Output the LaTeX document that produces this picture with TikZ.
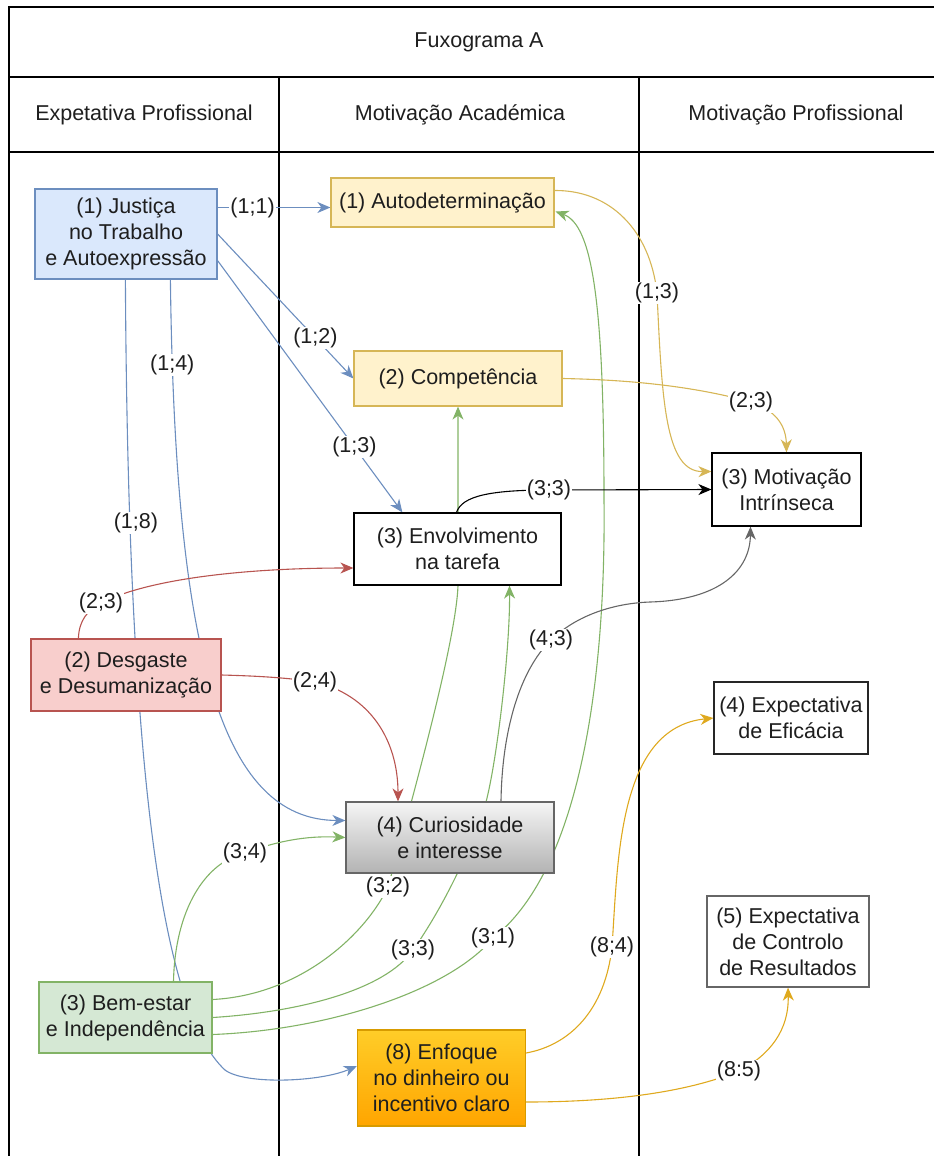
\documentclass[tikz,border=0pt]{standalone}
\usepackage{fontspec}
\setmainfont{Liberation Sans}
\usetikzlibrary{arrows.meta,calc,backgrounds}
\definecolor{bluefill}{HTML}{DAE8FC}
\definecolor{bluestroke}{HTML}{6C8EBF}
\definecolor{yelfill}{HTML}{FFF2CC}
\definecolor{yelstroke}{HTML}{D6B656}
\definecolor{redfill}{HTML}{F8CECC}
\definecolor{redstroke}{HTML}{B85450}
\definecolor{grnfill}{HTML}{D5E8D4}
\definecolor{grnstroke}{HTML}{82B366}
\definecolor{graytop}{HTML}{F5F5F5}
\definecolor{graybot}{HTML}{B3B3B3}
\definecolor{graystroke}{HTML}{666666}
\definecolor{orgtop}{HTML}{FFCD28}
\definecolor{orgbot}{HTML}{FFA500}
\definecolor{orgstroke}{HTML}{D79B00}
\definecolor{goldline}{HTML}{DFA91E}
\definecolor{txt}{HTML}{1E1E1E}
\tikzset{
  every node/.style={font=\fontsize{21.5}{26}\selectfont, text=txt},
  box/.style={draw, line width=1.2pt, inner sep=0pt, align=center},
  edge/.style={line width=1.1pt, -{Stealth[length=13pt,width=11pt,inset=4pt]}},
  lbl/.style={fill=white, inner sep=1pt},
  frame/.style={line width=1.4pt, black},
  hdr/.style={inner sep=0pt}
}
\begin{document}
\begin{tikzpicture}[x=1pt,y=1pt]
\useasboundingbox (0,0) rectangle (934,-1156);
% header texts
\node[hdr] (T) at (479,-42) {Fuxograma A};
\node[hdr] (H1) at (144,-115) {Expetativa Profissional};
\node[hdr] (H2) at (460,-115) {Motivação Académica};
\node[hdr] (H3) at (796,-115) {Motivação Profissional};
% nodes
\node[box, fill=bluefill, draw=bluestroke, minimum width=182pt, minimum height=90pt] (J) at (126,-234) {(1) Justiça\\no Trabalho\\e Autoexpressão};
\node[box, fill=yelfill, draw=yelstroke, minimum width=223pt, minimum height=49pt] (A) at (442.5,-202.5) {(1) Autodeterminação};
\node[box, fill=yelfill, draw=yelstroke, minimum width=208pt, minimum height=55pt] (C) at (458,-378.5) {(2) Competência};
\node[box, fill=white, draw=black, minimum width=207pt, minimum height=72pt] (E) at (457.5,-549) {(3) Envolvimento\\na tarefa};
\node[box, fill=white, draw=black, minimum width=149pt, minimum height=73pt] (MI) at (786.5,-489.5) {(3) Motivação\\Intrínseca};
\node[box, fill=redfill, draw=redstroke, minimum width=190pt, minimum height=72pt] (D) at (126,-675) {(2) Desgaste\\e Desumanização};
\node[box, top color=graytop, bottom color=graybot, draw=graystroke, minimum width=208pt, minimum height=71pt] (CI) at (450,-837.5) {(4) Curiosidade\\e interesse};
\node[box, fill=white, draw=black!85, minimum width=154pt, minimum height=72pt] (EE) at (791,-718) {(4) Expectativa\\de Eficácia};
\node[box, fill=white, draw=graystroke, minimum width=162pt, minimum height=91pt] (R) at (788,-941.5) {(5) Expectativa\\de Controlo\\de Resultados};
\node[box, fill=grnfill, draw=grnstroke, minimum width=173pt, minimum height=71pt] (B) at (125.5,-1017.5) {(3) Bem-estar\\e Independência};
\node[box, top color=orgtop, bottom color=orgbot, draw=orgstroke, minimum width=168pt, minimum height=96pt] (F) at (441.5,-1078) {(8) Enfoque\\no dinheiro ou\\incentivo claro};
\begin{pgfonlayer}{background}
% frame
\draw[frame] (9,-1156) -- (9,-7) -- (934,-7);
\draw[frame] (9,-77) -- (934,-77);
\draw[frame] (9,-152) -- (934,-152);
\draw[frame] (279,-77) -- (279,-1156);
\draw[frame] (639,-77) -- (639,-1156);
% blue edges
\draw[edge,bluestroke] ($(J.east|-A.west)+(0,-5)$) -- node[lbl,pos=0.31]{(1;1)} ($(A.west)+(0,-5)$);
\draw[edge,bluestroke] (J.east) -- node[lbl,pos=0.72]{(1;2)} (C.west);
\draw[edge,bluestroke] ($(J.south east)+(0,19)$) -- node[lbl,pos=0.74]{(1;3)} ($(E.north west)+(49,0)$);
\draw[edge,bluestroke] ($(J.south west)+(136,0)$) .. controls (175,-650) and (220,-820) .. node[lbl,pos=0.08]{(1;4)} ($(CI.west)+(0,17)$);
\draw[edge,bluestroke] ($(J.south west)+(91,0)$) .. controls (128,-760) and (160,-1010) .. node[lbl,pos=0.185,xshift=6pt]{(1;8)} (225,-1070) .. controls (245,-1085) and (320,-1082) .. ($(F.west)+(0,12)$);
% red edges
\draw[edge,redstroke] ($(D.north west)+(48,0)$) .. controls (79,-620) and (88,-610) .. (101,-603) node[lbl]{(2;3)} .. controls (150,-578) and (250,-568) .. ($(E.west)+(0,-19)$);
\draw[edge,redstroke] (D.east) .. controls (260,-676) and (290,-678) .. (315,-682) node[lbl]{(2;4)} .. controls (370,-695) and (398,-740) .. ($(CI.north)+(-52,0)$);
% green edges
\draw[edge,grnstroke] ($(B.east)+(0,18)$) .. controls (300,-995) and (365,-935) .. (388,-887) node[lbl]{(3;2)} .. controls (415,-790) and (456,-640) .. (C.south |- E.south) -- (C.south);
\draw[edge,grnstroke] (B.east) .. controls (300,-1012) and (385,-990) .. (413,-950) node[lbl]{(3;3)} .. controls (445,-905) and (475,-840) .. (486,-802) .. controls (497,-760) and (510,-650) .. ($(E.south)+(52,0)$);
\draw[edge,grnstroke] ($(B.east)+(0,-17)$) .. controls (330,-1030) and (450,-990) .. (493,-938) node[lbl]{(3;1)} .. controls (580,-870) and (606,-680) .. (604,-500) .. controls (604,-300) and (592,-225) .. ($(A.east)+(1,-9)$);
\draw[edge,grnstroke] ($(B.north)+(48,0)$) .. controls (175,-910) and (205,-862) .. (245,-853) node[lbl]{(3;4)} .. controls (285,-838) and (315,-836) .. (CI.west);
% yellow edges
\draw[edge,yelstroke] ($(A.east)+(0,12)$) .. controls (610,-190) and (650,-230) .. (657,-293) node[lbl]{(1;3)} .. controls (662,-400) and (665,-472) .. ($(MI.west)+(0,18)$);
\draw[edge,yelstroke] (C.east) .. controls (640,-380) and (700,-388) .. (751,-402) node[lbl]{(2;3)} .. controls (775,-410) and (786,-425) .. (MI.north);
% black and gray
\draw[edge,black] ($(E.north)+(-1,0)$) .. controls (462,-496) and (490,-490) .. (549,-490) node[lbl]{(3;3)} -- (MI.west);
\draw[edge,graystroke] ($(CI.north)+(51,0)$) .. controls (502,-730) and (520,-670) .. (551,-640) node[lbl]{(4;3)} .. controls (580,-612) and (620,-603) .. (650,-602) .. controls (720,-600) and (750,-570) .. ($(MI.south)+(-36,0)$);
% gold edges
\draw[edge,goldline] ($(F.east)+(0,25)$) .. controls (570,-1045) and (605,-1010) .. (612,-947) node[lbl]{(8;4)} .. controls (618,-860) and (618,-728) .. (EE.west);
\draw[edge,goldline] ($(F.east)+(0,-24)$) .. controls (600,-1102) and (680,-1095) .. (739,-1071) node[lbl]{(8:5)} .. controls (770,-1055) and (789,-1030) .. (R.south);
\end{pgfonlayer}
\end{tikzpicture}
\end{document}
